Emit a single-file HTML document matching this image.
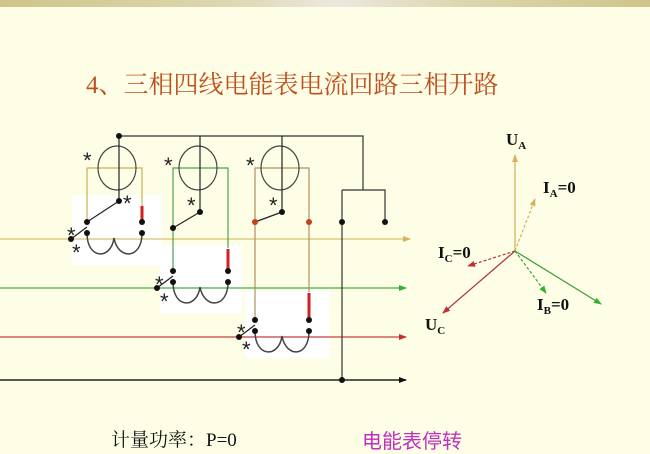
<!DOCTYPE html>
<html><head><meta charset="utf-8"><style>
html,body{margin:0;padding:0;}
body{width:650px;height:450px;overflow:hidden;background:#fefee6;position:relative;font-family:"Liberation Serif","Noto Serif CJK SC",serif;}
.top{position:absolute;left:0;top:0;width:650px;height:7px;background:linear-gradient(90deg,#cfc48a,#ddd7b0 35%,#ece8e0 52%,#ddd7b0 70%,#cfc48a);}
.t{position:absolute;white-space:nowrap;}
</style></head><body>
<div class="top"></div>
<div class="t" style="left:86px;top:65px;font-size:25px;color:#c0501f;font-family:'Liberation Serif','Noto Serif CJK SC',serif;">4、三相四线电能表电流回路三相开路</div>
<div class="t" style="left:111px;top:425px;font-size:19px;color:#111;">计量功率：P=0</div>
<div class="t" style="left:362px;top:425px;font-size:20px;color:#c030c0;font-family:'Liberation Sans','Noto Sans CJK SC',sans-serif;">电能表停转</div>
<svg width="650" height="450" style="position:absolute;left:0;top:0" font-family="Liberation Serif" font-weight="bold">
<defs>
<marker id="ay" markerWidth="8" markerHeight="8" refX="7" refY="4" orient="auto" markerUnits="userSpaceOnUse"><path d="M0,1 L8,4 L0,7z" fill="#d8b060"/></marker>
<marker id="ag" markerWidth="8" markerHeight="8" refX="7" refY="4" orient="auto" markerUnits="userSpaceOnUse"><path d="M0,1 L8,4 L0,7z" fill="#30b030"/></marker>
<marker id="ar" markerWidth="8" markerHeight="8" refX="7" refY="4" orient="auto" markerUnits="userSpaceOnUse"><path d="M0,1 L8,4 L0,7z" fill="#c03030"/></marker>
<marker id="ak" markerWidth="8" markerHeight="8" refX="7" refY="4" orient="auto" markerUnits="userSpaceOnUse"><path d="M0,1 L8,4 L0,7z" fill="#111"/></marker>
</defs>
<rect x="72" y="195" width="90" height="70" fill="#fff"/>
<rect x="160" y="245" width="82" height="68" fill="#fff"/>
<rect x="245" y="290" width="85" height="68" fill="#fff"/>
<line x1="0" y1="239" x2="410" y2="239" stroke="#d8c070" stroke-width="1.3" marker-end="url(#ay)"/>
<line x1="0" y1="288" x2="406" y2="288" stroke="#40b040" stroke-width="1.3" marker-end="url(#ag)"/>
<line x1="0" y1="337" x2="406" y2="337" stroke="#c04040" stroke-width="1.3" marker-end="url(#ar)"/>
<line x1="0" y1="380" x2="406" y2="380" stroke="#222" stroke-width="1.5" marker-end="url(#ak)"/>
<g fill="none" stroke-width="1.2">
<path d="M119,136 H363 V190 M342,190 H385 V222 M342,190 V380" stroke="#333"/>
<path d="M87,222 V168 H142 V222" stroke="#c8b050"/>
<ellipse cx="117" cy="168" rx="19" ry="22" stroke="#444"/>
<path d="M119,136 V201 M87,222 L119,201 M71,239 L87,227" stroke="#222"/>
<path d="M87,233 C87,260 111,260 114,238 C118,260 142,260 142,233" stroke="#444" stroke-width="1.5"/>
<path d="M173,271 V168 H228 V248" stroke="#50a050"/>
<ellipse cx="198" cy="168" rx="19" ry="22" stroke="#444"/>
<path d="M200,136 V212 M173,228 L200,212 M157,288 L173,276" stroke="#222"/>
<path d="M173,282 C173,309 197,309 200,287 C204,309 228,309 228,282" stroke="#444" stroke-width="1.5"/>
<path d="M255,320 V168 H309 V292" stroke="#b09060"/>
<ellipse cx="280" cy="168" rx="19" ry="22" stroke="#444"/>
<path d="M282,136 V212 M255,222 L282,212 M239,337 L255,325" stroke="#222"/>
<path d="M255,331 C255,358 279,358 282,336 C286,358 309,358 309,331" stroke="#444" stroke-width="1.5"/>
</g>
<line x1="142" y1="206" x2="142" y2="222" stroke="#d02020" stroke-width="3"/>
<line x1="228" y1="249" x2="228" y2="271" stroke="#d02020" stroke-width="3"/>
<line x1="309" y1="293" x2="309" y2="322" stroke="#d02020" stroke-width="3"/>
<g fill="#111">
<circle cx="119" cy="136" r="3"/><circle cx="119" cy="201" r="3"/>
<circle cx="87" cy="222" r="3"/><circle cx="87" cy="233" r="3"/><circle cx="142" cy="222" r="3"/><circle cx="142" cy="233" r="3"/><circle cx="71" cy="239" r="3"/>
<circle cx="200" cy="212" r="3"/><circle cx="173" cy="228" r="3"/><circle cx="173" cy="271" r="3"/><circle cx="173" cy="282" r="3"/><circle cx="228" cy="271" r="3"/><circle cx="228" cy="282" r="3"/><circle cx="157" cy="288" r="3"/>
<circle cx="282" cy="212" r="3"/><circle cx="255" cy="320" r="3"/><circle cx="255" cy="331" r="3"/><circle cx="309" cy="320" r="3"/><circle cx="309" cy="331" r="3"/><circle cx="239" cy="337" r="3"/>
<circle cx="342" cy="222" r="3"/><circle cx="385" cy="222" r="3"/><circle cx="342" cy="380" r="3"/>
</g>
<circle cx="255" cy="222" r="3" fill="#c04020"/><circle cx="309" cy="222" r="3" fill="#c04020"/>
<g font-size="22" font-weight="normal" fill="#222" font-family="Liberation Sans">
<text x="83" y="168">*</text><text x="123" y="211">*</text><text x="67" y="243">*</text><text x="72" y="260">*</text>
<text x="164" y="173">*</text><text x="187" y="213">*</text><text x="155" y="292">*</text><text x="160" y="309">*</text>
<text x="246" y="173">*</text><text x="269" y="213">*</text><text x="237" y="340">*</text><text x="242" y="357">*</text>
</g>
<line x1="515" y1="251" x2="515" y2="155" stroke="#d8b060" stroke-width="1.3" marker-end="url(#ay)"/>
<line x1="515" y1="251" x2="535" y2="199" stroke="#d8b060" stroke-width="1.2" stroke-dasharray="3,2" marker-end="url(#ay)"/>
<line x1="515" y1="251" x2="443" y2="313" stroke="#b04040" stroke-width="1.3" marker-end="url(#ar)"/>
<line x1="515" y1="251" x2="468" y2="266" stroke="#c03030" stroke-width="1.2" stroke-dasharray="3,2" marker-end="url(#ar)"/>
<line x1="515" y1="251" x2="601" y2="304" stroke="#40a040" stroke-width="1.3" marker-end="url(#ag)"/>
<line x1="515" y1="251" x2="546" y2="293" stroke="#40a040" stroke-width="1.2" stroke-dasharray="3,2" marker-end="url(#ag)"/>
<g fill="#111" font-size="17">
<text x="506" y="145">U<tspan font-size="11" dy="4">A</tspan></text>
<text x="543" y="193">I<tspan font-size="11" dy="4">A</tspan><tspan dy="-4">=0</tspan></text>
<text x="438" y="258">I<tspan font-size="11" dy="4">C</tspan><tspan dy="-4">=0</tspan></text>
<text x="537" y="310">I<tspan font-size="11" dy="4">B</tspan><tspan dy="-4">=0</tspan></text>
<text x="425" y="330">U<tspan font-size="11" dy="4">C</tspan></text>
</g>
</svg>
</body></html>
